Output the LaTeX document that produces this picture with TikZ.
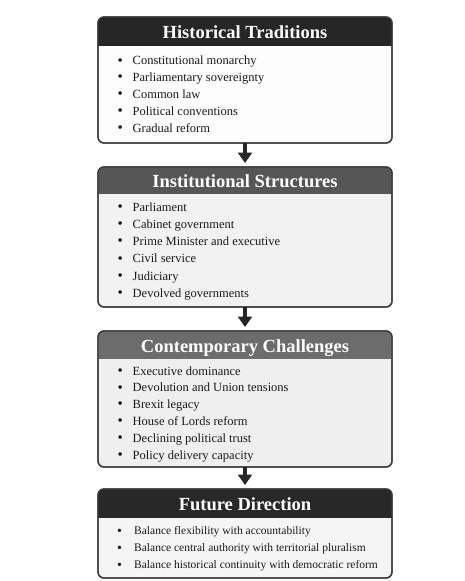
\documentclass[tikz,border=0pt]{standalone}
\usepackage{fontspec}
\setmainfont{Liberation Serif}
\usetikzlibrary{arrows.meta}
\definecolor{hdrA}{HTML}{262626}
\definecolor{hdrB}{HTML}{565656}
\definecolor{hdrC}{HTML}{6C6C6C}
\definecolor{hdrD}{HTML}{282828}
\definecolor{bodyA}{HTML}{FDFDFD}
\definecolor{bodyB}{HTML}{F2F2F2}
\definecolor{bodyC}{HTML}{EFEFEF}
\definecolor{bodyD}{HTML}{F5F5F5}
\definecolor{bord}{HTML}{3A3A3A}
\definecolor{txt}{HTML}{1A1A1A}
\tikzset{
  panel/.style={draw=bord, line width=1.3pt, rounded corners=6pt, minimum width=294pt, inner sep=0pt, outer sep=0pt},
  ttl/.style={anchor=base, text=white, font=\fontsize{18.5}{22}\selectfont\bfseries, inner sep=0pt},
  item/.style={anchor=base west, text=txt, font=\fontsize{12.5}{15}\selectfont, inner sep=0pt},
  smallitem/.style={item, font=\fontsize{11.5}{14}\selectfont},
  flow/.style={draw=hdrA, line width=3.5pt, -{Triangle[width=14pt,length=10.5pt]}, shorten >=4pt}
}
\newcommand{\bul}[1]{\makebox[15pt][l]{\raisebox{-0.3pt}{\fontsize{15}{15}\selectfont\textbullet}}#1}
\newcommand{\bulw}[1]{\makebox[17pt][l]{\raisebox{-0.3pt}{\fontsize{14}{14}\selectfont\textbullet}}#1}
\begin{document}
\begin{tikzpicture}[x=1pt,y=-1pt]
\useasboundingbox[fill=white] (0,0) rectangle (465,581);
% boxes
\node[panel, fill=bodyA, minimum height=126pt] (b1) at (245,80) {};
\node[panel, fill=bodyB, minimum height=140pt] (b2) at (245,237) {};
\node[panel, fill=bodyC, minimum height=136pt] (b3) at (245,399) {};
\node[panel, fill=bodyD, minimum height=89pt] (b4) at (245,533.5) {};
% headers
\begin{scope}
\clip[rounded corners=6pt] (b1.north west) rectangle (b1.south east);
\fill[hdrA] (b1.north west) rectangle (392,46);
\end{scope}
\begin{scope}
\clip[rounded corners=6pt] (b2.north west) rectangle (b2.south east);
\fill[hdrB] (b2.north west) rectangle (392,194);
\end{scope}
\begin{scope}
\clip[rounded corners=6pt] (b3.north west) rectangle (b3.south east);
\fill[hdrC] (b3.north west) rectangle (392,359);
\end{scope}
\begin{scope}
\clip[rounded corners=6pt] (b4.north west) rectangle (b4.south east);
\fill[hdrD] (b4.north west) rectangle (392,518);
\end{scope}
\foreach \b in {b1,b2,b3,b4}
  \draw[draw=bord, line width=1.3pt, rounded corners=6pt] (\b.north west) rectangle (\b.south east);
% titles
\node[ttl] (t1) at (245,38) {Historical Traditions};
\node[ttl] (t2) at (245,187.3) {Institutional Structures};
\node[ttl] (t3) at (245,352) {Contemporary Challenges};
\node[ttl] (t4) at (245,510) {Future Direction};
% items
\foreach \t [count=\i] in {Constitutional monarchy, Parliamentary sovereignty, Common law, Political conventions, Gradual reform}
  \node[item] (i1-\i) at (117.5, 64.7+16.9*\i-16.9) {\bul{\t}};
\foreach \t [count=\i] in {Parliament, Cabinet government, Prime Minister and executive, Civil service, Judiciary, Devolved governments}
  \node[item] (i2-\i) at (117.5, 211+17.3*\i-17.3) {\bul{\t}};
\foreach \t [count=\i] in {Executive dominance, Devolution and Union tensions, Brexit legacy, House of Lords reform, Declining political trust, Policy delivery capacity}
  \node[item] (i3-\i) at (117.5, 375+16.8*\i-16.8) {\bul{\t}};
\foreach \t [count=\i] in {Balance flexibility with accountability, Balance central authority with territorial pluralism, Balance historical continuity with democratic reform}
  \node[smallitem] (i4-\i) at (117, 534.7+17*\i-17) {\bulw{\t}};
% arrows
\draw[flow] (b1.south) -- (b2.north);
\draw[flow] (b2.south) -- (b3.north);
\draw[flow] (b3.south) -- (b4.north);
\end{tikzpicture}
\end{document}
